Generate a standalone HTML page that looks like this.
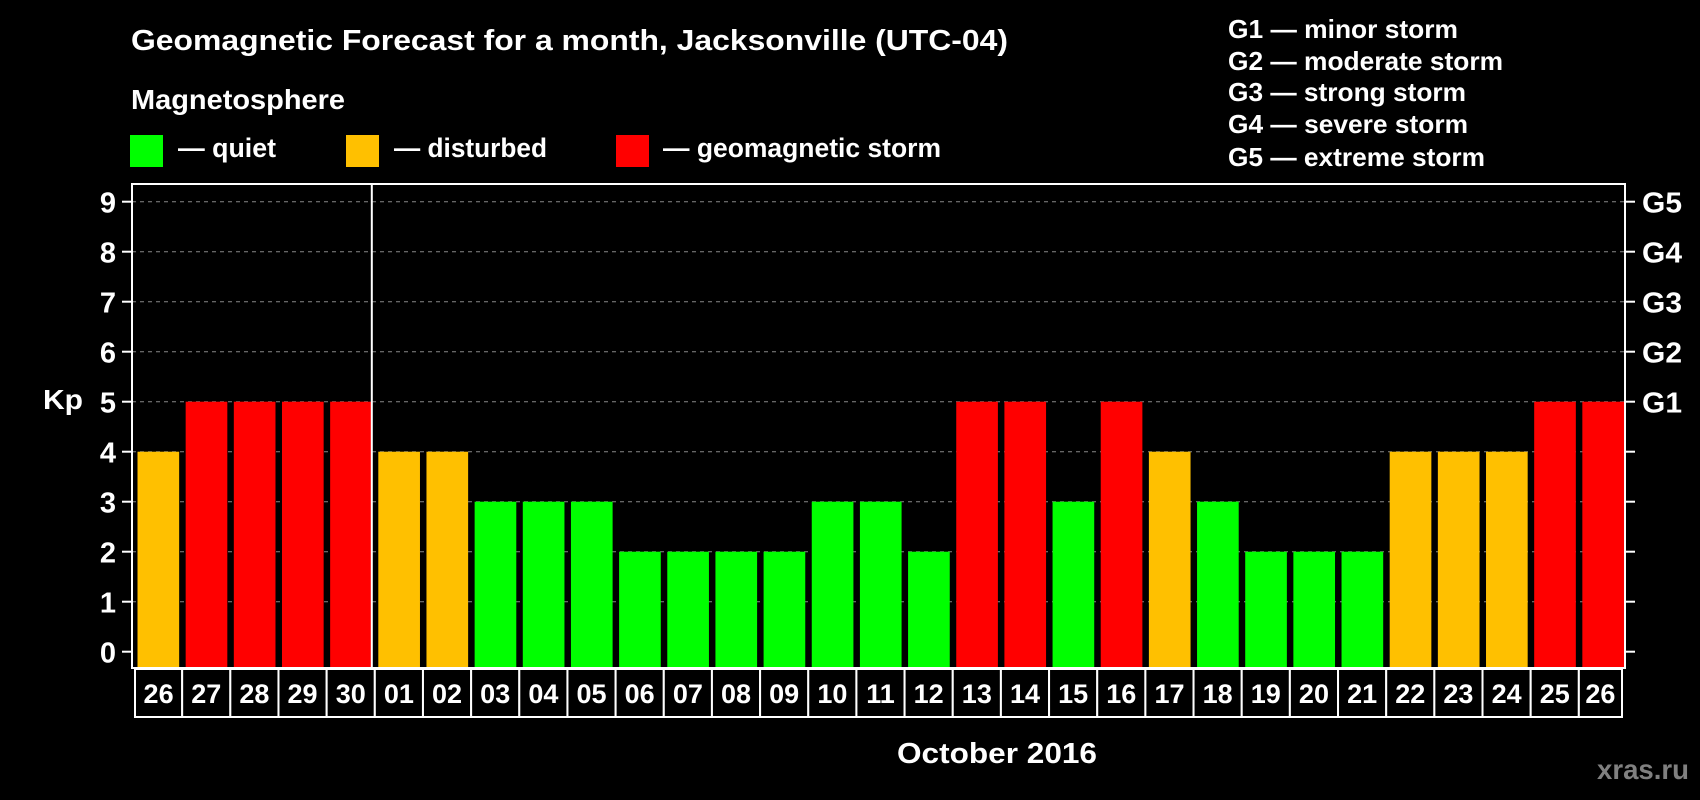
<!DOCTYPE html>
<html><head><meta charset="utf-8"><style>
html,body{margin:0;padding:0;background:#000;}
svg{display:block;}
text{font-family:"Liberation Sans",Arial,sans-serif;font-weight:bold;fill:#fff;}
</style></head><body>
<svg id="chart" width="1700" height="800" viewBox="0 0 1700 800" xmlns="http://www.w3.org/2000/svg">
<rect x="0" y="0" width="1700" height="800" fill="#000"/>
<text x="131" y="50" font-size="29" textLength="877" lengthAdjust="spacingAndGlyphs">Geomagnetic Forecast for a month, Jacksonville (UTC-04)</text>
<text x="131" y="109" font-size="28" textLength="214" lengthAdjust="spacingAndGlyphs">Magnetosphere</text>
<rect x="130" y="135" width="33" height="32" fill="#00ff00"/>
<text x="178" y="157" font-size="27" textLength="98" lengthAdjust="spacingAndGlyphs">— quiet</text>
<rect x="346" y="135" width="33" height="32" fill="#ffc000"/>
<text x="394" y="157" font-size="27" textLength="153" lengthAdjust="spacingAndGlyphs">— disturbed</text>
<rect x="616" y="135" width="33" height="32" fill="#ff0000"/>
<text x="663" y="157" font-size="27" textLength="278" lengthAdjust="spacingAndGlyphs">— geomagnetic storm</text>
<text x="1228" y="38" font-size="26" textLength="230" lengthAdjust="spacingAndGlyphs">G1 — minor storm</text>
<text x="1228" y="70" font-size="26" textLength="275" lengthAdjust="spacingAndGlyphs">G2 — moderate storm</text>
<text x="1228" y="101" font-size="26" textLength="238" lengthAdjust="spacingAndGlyphs">G3 — strong storm</text>
<text x="1228" y="133" font-size="26" textLength="240" lengthAdjust="spacingAndGlyphs">G4 — severe storm</text>
<text x="1228" y="166" font-size="26" textLength="257" lengthAdjust="spacingAndGlyphs">G5 — extreme storm</text>
<text x="43" y="409" font-size="28" textLength="40" lengthAdjust="spacingAndGlyphs">Kp</text>
<text x="897" y="763" font-size="29" textLength="200" lengthAdjust="spacingAndGlyphs">October 2016</text>
<text x="1597" y="779" font-size="28" textLength="92" lengthAdjust="spacingAndGlyphs" style="fill:#808080">xras.ru</text>
<g id="plot"></g>
</svg>
<script>
const categories = ["26","27","28","29","30","01","02","03","04","05","06","07","08","09","10","11","12","13","14","15","16","17","18","19","20","21","22","23","24","25","26"];
const values = [4,5,5,5,5,4,4,3,3,3,2,2,2,2,3,3,2,5,5,3,5,4,3,2,2,2,4,4,4,5,5];
const colorsIdx = [1,2,2,2,2,1,1,0,0,0,0,0,0,0,0,0,0,2,2,0,2,1,0,0,0,0,1,1,1,2,2];
const yTicks = [0,1,2,3,4,5,6,7,8,9];
const gLabels = ["G1","G2","G3","G4","G5"];
const gLevels = [5,6,7,8,9];
const palette = ["#00ff00","#ffc000","#ff0000"];

const NS = "http://www.w3.org/2000/svg";
const L = 132, R = 1625, T = 184, B = 668;
const slot = (R - L) / categories.length;
function xScale(i){ return L + i * slot; }
function yScale(v){ return 651.7 - 50 * v; }
const g = document.getElementById('plot');
function mk(tag, attrs){ const e = document.createElementNS(NS, tag); for (const k in attrs) e.setAttribute(k, attrs[k]); g.appendChild(e); return e; }

yTicks.forEach(v => {
  if (v >= 1) {
    const gl = mk('line', {x1:L, x2:R, y1:yScale(v), y2:yScale(v), stroke:'#888', 'stroke-width':1, 'stroke-dasharray':'4,4'});
    
    
  }
  const t1 = mk('line', {x1:L-10, x2:L, y1:yScale(v), y2:yScale(v), stroke:'#fff', 'stroke-width':2});
  
  
  const t2 = mk('line', {x1:R, x2:R+10, y1:yScale(v), y2:yScale(v), stroke:'#fff', 'stroke-width':2});
  
  
  const tl = mk('text', {x:116, y:yScale(v)+11, 'font-size':29, 'text-anchor':'end'});
  tl.textContent = v;
  
  
});
gLabels.forEach((lab, i) => {
  const t = mk('text', {x:1642, y:yScale(gLevels[i])+11, 'font-size':29, textLength:40, lengthAdjust:'spacingAndGlyphs'});
  t.textContent = lab;
  
  
});

values.forEach((v, i) => {
  const r = mk('rect', {x:xScale(i)+5.5, y:yScale(v), width:slot-6.5, height:B - yScale(v), fill:palette[colorsIdx[i]]});
  
  
});

const frame = mk('rect', {x:L, y:T, width:R-L, height:B-T, fill:'none', stroke:'#fff', 'stroke-width':2});


const div = mk('line', {x1:xScale(5)-1, x2:xScale(5)-1, y1:T, y2:B, stroke:'#fff', 'stroke-width':2});



categories.forEach((c, i) => {
  const x0 = i === 0 ? 135 : xScale(i) + 2;
  const x1 = i === categories.length - 1 ? 1622 : xScale(i+1) + 2;
  const box = mk('rect', {x:x0, y:669, width:x1-x0, height:48, fill:'#000', stroke:'#fff', 'stroke-width':2});
  
  
  const t = mk('text', {x:(x0+x1)/2, y:703, 'font-size':27, 'text-anchor':'middle'});
  t.textContent = c;
  
  
});
</script>
</body></html>
